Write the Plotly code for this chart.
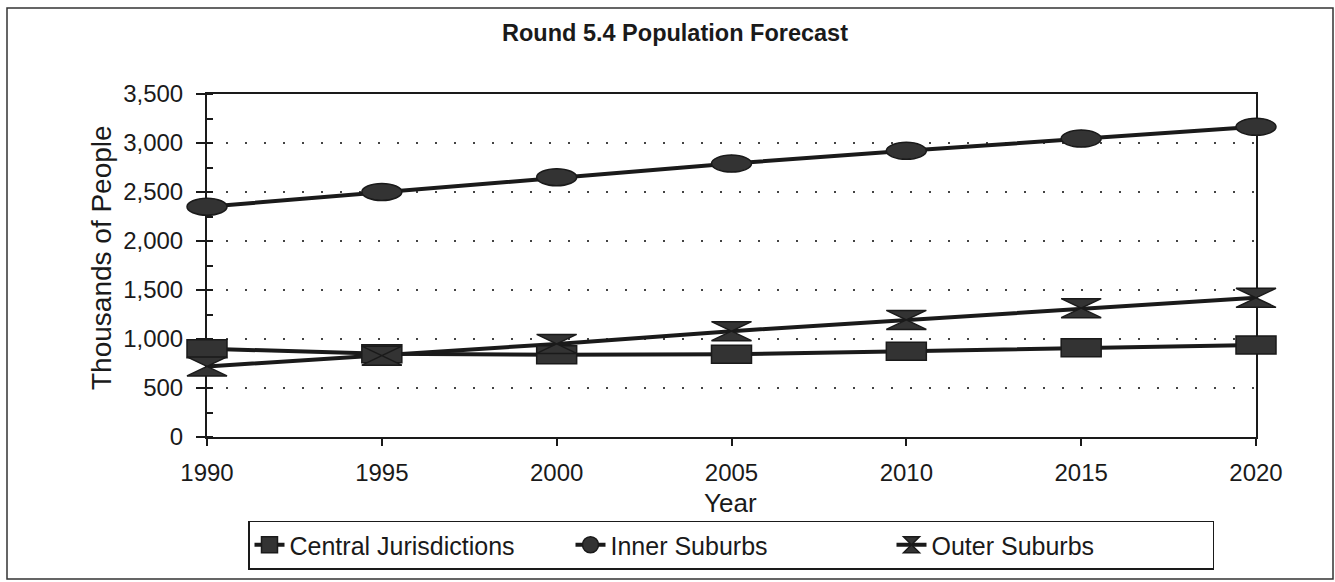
import plotly.graph_objects as go

# ---- data ----
years = [1990, 1995, 2000, 2005, 2010, 2015, 2020]
central = [900, 850, 840, 845, 875, 910, 940]
inner = [2350, 2500, 2650, 2790, 2920, 3045, 3165]
outer = [720, 830, 950, 1080, 1195, 1315, 1420]
series_names = ["Central Jurisdictions", "Inner Suburbs", "Outer Suburbs"]
y_ticks = [0, 500, 1000, 1500, 2000, 2500, 3000, 3500]

# ---- layout geometry (pixels) ----
W, H = 1335, 582
ML, MR, MT, MB = 182, 54, 94, 145
plot_w = W - ML - MR
plot_h = H - MT - MB
PAD = 25  # extra pixels each side for the unclipped marker subplot
dom_l = PAD / plot_w
dom_r = 1 - PAD / plot_w
yrs_per_px = (years[-1] - years[0]) / (plot_w - 2 * PAD)
x2_range = [years[0] - PAD * yrs_per_px, years[-1] + PAD * yrs_per_px]

FONT = "Liberation Sans, Arial, sans-serif"
INK = "#1a1a1a"
FILL = "#333333"

fig = go.Figure()

symbols = ["square", "circle", "hourglass"]
for name, vals, sym in zip(series_names, [central, inner, outer], symbols):
    fig.add_trace(go.Scatter(
        x=years, y=vals, name=name, mode="lines+markers",
        line=dict(color=INK, width=4),
        marker=dict(symbol=sym, size=16, color=FILL, line=dict(color=INK, width=1.5)),
        cliponaxis=False, hoverinfo="x+y+name",
    ))

# helper subplot (same scale, wider domain) so that wide markers are not clipped
fig.add_trace(go.Scatter(x=[years[0]], y=[central[0]], xaxis="x2", yaxis="y2",
                         mode="markers", marker=dict(opacity=0), showlegend=False,
                         hoverinfo="skip"))

shapes = []
HW, HH = 20, 9
for yr, v in zip(years, central):
    shapes.append(dict(type="rect", xref="x2", yref="y2", xsizemode="pixel", ysizemode="pixel",
                       xanchor=yr, yanchor=v, x0=-HW, x1=HW, y0=-HH, y1=HH,
                       fillcolor=FILL, line=dict(color=INK, width=1.5), layer="above"))
for yr, v in zip(years, inner):
    shapes.append(dict(type="circle", xref="x2", yref="y2", xsizemode="pixel", ysizemode="pixel",
                       xanchor=yr, yanchor=v, x0=-HW, x1=HW, y0=-8.5, y1=8.5,
                       fillcolor=FILL, line=dict(color=INK, width=1.5), layer="above"))
hg_path = f"M{-HW},{-9.5} L{HW},{-9.5} L{-HW},{9.5} L{HW},{9.5} Z"
for yr, v in zip(years, outer):
    shapes.append(dict(type="path", xref="x2", yref="y2", xsizemode="pixel", ysizemode="pixel",
                       xanchor=yr, yanchor=v, path=hg_path,
                       fillcolor=FILL, line=dict(color=INK, width=1.5), layer="above"))

# outer frame around the whole chart
shapes.append(dict(type="rect", xref="paper", yref="paper",
                   x0=(7 - ML) / plot_w, x1=(1333 - ML) / plot_w,
                   y0=(H - MB - 579) / plot_h, y1=(H - MB - 8) / plot_h,
                   line=dict(color="#333", width=1.5), fillcolor="rgba(0,0,0,0)", layer="below"))

annotations = [
    dict(text="Thousands of People", xref="paper", yref="paper",
         x=(101 - ML) / plot_w, y=(H - MB - 258) / plot_h, textangle=-90,
         showarrow=False, font=dict(family=FONT, size=28, color=INK),
         xanchor="center", yanchor="middle"),
    dict(text="Year", xref="paper", yref="paper",
         x=(730 - ML) / plot_w, y=(H - MB - 503) / plot_h,
         showarrow=False, font=dict(family=FONT, size=26, color=INK),
         xanchor="center", yanchor="middle"),
]

fig.update_layout(
    width=W, height=H,
    margin=dict(l=ML, r=MR, t=MT, b=MB, pad=0, autoexpand=False),
    paper_bgcolor="white", plot_bgcolor="rgba(0,0,0,0)",
    title=dict(text="Round 5.4 Population Forecast", x=(675 - ML) / plot_w, xref="paper",
               xanchor="center", y=1 - 33 / H, yref="container", yanchor="middle",
               font=dict(family=FONT, size=23.5, color=INK, weight=700)),
    font=dict(family=FONT, size=24, color=INK),
    xaxis=dict(domain=[dom_l, dom_r], range=[years[0], years[-1]], tickvals=years,
               ticks="outside", ticklen=7, tickwidth=1.5, tickcolor=INK,
               showline=True, linewidth=2, linecolor=INK, mirror=True,
               showgrid=False, zeroline=False, tickfont=dict(size=24),
               ticklabelstandoff=6, anchor="y"),
    yaxis=dict(range=[0, 3500], tickvals=y_ticks, tickformat=",",
               ticks="outside", ticklen=9, tickwidth=1.5, tickcolor=INK,
               minor=dict(dtick=250, ticks="inside", ticklen=6, tickwidth=1.5, tickcolor=INK, showgrid=False),
               showline=True, linewidth=2, linecolor=INK, mirror=True,
               showgrid=True, gridcolor="#444", gridwidth=2, griddash="2px,17px",
               zeroline=False, tickfont=dict(size=24), ticklabelstandoff=8, anchor="x"),
    xaxis2=dict(domain=[0, 1], range=x2_range, visible=False, anchor="y2"),
    yaxis2=dict(domain=[0, 1], range=[0, 3500], visible=False, anchor="x2"),
    legend=dict(orientation="h", x=(731 - ML) / plot_w, xanchor="center",
                y=(H - MB - 545) / plot_h, yanchor="middle",
                bordercolor=INK, borderwidth=1.5, bgcolor="white",
                font=dict(family=FONT, size=25, color=INK),
                entrywidth=276, entrywidthmode="pixels", itemsizing="trace"),
    shapes=shapes, annotations=annotations, showlegend=True,
)

fig.write_html("out.html", config={"displayModeBar": False},
               post_script="document.body.style.margin='0';window.dispatchEvent(new Event('resize'));")
